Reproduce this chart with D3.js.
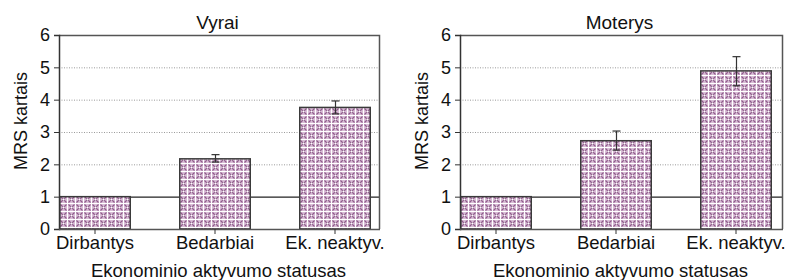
<!DOCTYPE html>
<html>
<head>
<meta charset="utf-8">
<script src="https://cdn.jsdelivr.net/npm/d3@7"></script>
<style>
  body { margin: 0; background: #fff; }
  svg { display: block; font-family: "Liberation Sans", Arial, sans-serif; }
</style>
</head>
<body>
<svg id="chart" width="796" height="280"></svg>
<script>
// data
const categories = ['Dirbantys', 'Bedarbiai', 'Ek. neaktyv.'];
const yTicks = [0, 1, 2, 3, 4, 5, 6];
const panelTitles = ['Vyrai', 'Moterys'];
const menValues = [1, 2.17, 3.76];
const menLow = [1, 2.07, 3.56];
const menHigh = [1, 2.30, 3.96];
const womenValues = [1, 2.73, 4.89];
const womenLow = [1, 2.44, 4.43];
const womenHigh = [1, 3.03, 5.33];

const svg = d3.select('#chart');

// lattice fill like the original
const defs = svg.append('defs');
const pat = defs.append('pattern')
    .attr('id', 'hatch')
    .attr('patternUnits', 'userSpaceOnUse')
    .attr('width', 8)
    .attr('height', 8);
pat.append('rect').attr('width', 8).attr('height', 8).attr('fill', '#fff');
pat.append('rect').attr('x', 1).attr('y', 1).attr('width', 7).attr('height', 7).attr('fill', '#d9bdd6');
pat.append('path')
    .attr('d', 'M1.5,1.5L7.5,7.5M7.5,1.5L1.5,7.5')
    .attr('stroke', '#8e5a8a')
    .attr('stroke-width', 1.1);
pat.append('circle')
    .attr('cx', 4.5).attr('cy', 4.5).attr('r', 1)
    .attr('fill', '#fff');

const panels = [
    { title: panelTitles[0], left: 59, right: 380, values: menValues, low: menLow, high: menHigh },
    { title: panelTitles[1], left: 460, right: 783, values: womenValues, low: womenLow, high: womenHigh }
];
const plotTop = 35, plotBottom = 229;
const fontFam = '"Liberation Sans", Arial, sans-serif';

panels.forEach(p => {
    const w = p.right - p.left;
    const h = plotBottom - plotTop;
    const g = svg.append('g').attr('transform', `translate(${p.left},${plotTop})`);

    const x = d3.scaleBand().domain(categories).range([-24, 336]).paddingInner(0.4).paddingOuter(0.2);
    const y = d3.scaleLinear().domain([0, 6]).range([h, 0]);

    // dotted grid
    g.append('g')
        .selectAll('line')
        .data(yTicks.filter(t => t >= 2 && t <= 5))
        .enter()
        .append('line')
        .attr('x1', 0).attr('x2', w)
        .attr('y1', d => y(d) + 0.5).attr('y2', d => y(d) + 0.5)
        .attr('stroke', '#9a9a9a')
        .attr('stroke-width', 1)
        .attr('stroke-dasharray', '1,1.5');

    // reference line at 1
    g.append('line')
        .attr('x1', 0).attr('x2', w)
        .attr('y1', y(1) + 0.5).attr('y2', y(1) + 0.5)
        .attr('stroke', '#222')
        .attr('stroke-width', 1.2);

    // plot box (top, right)
    g.append('path')
        .attr('d', `M0,0.5H${w - 0.5}V${h}`)
        .attr('fill', 'none')
        .attr('stroke', '#555')
        .attr('stroke-width', 1.5);

    // bars
    g.append('g')
        .selectAll('rect')
        .data(p.values)
        .enter()
        .append('rect')
        .attr('x', (d, i) => x(categories[i]) + 0.75)
        .attr('y', d => y(d))
        .attr('width', x.bandwidth() - 1.5)
        .attr('height', d => h - y(d))
        .attr('fill', 'url(#hatch)')
        .attr('stroke', '#3a3a3a')
        .attr('stroke-width', 1.5);

    // error bars
    const err = g.append('g').attr('stroke', '#333').attr('stroke-width', 1.2);
    p.values.forEach((v, i) => {
        if (p.high[i] === p.low[i]) return;
        const cx = Math.round(x(categories[i]) + x.bandwidth() / 2) + 0.5;
        err.append('line').attr('x1', cx).attr('x2', cx).attr('y1', y(p.high[i])).attr('y2', y(p.low[i]));
        err.append('line').attr('x1', cx - 4).attr('x2', cx + 4).attr('y1', y(p.high[i])).attr('y2', y(p.high[i]));
        err.append('line').attr('x1', cx - 4).attr('x2', cx + 4).attr('y1', y(p.low[i])).attr('y2', y(p.low[i]));
    });

    // y axis
    const yAxis = g.append('g')
        .call(d3.axisLeft(y).tickValues(yTicks).tickSize(5).tickPadding(4).tickFormat(d3.format('d')));
    yAxis.select('.domain').attr('stroke', '#333').attr('stroke-width', 1.5);
    yAxis.selectAll('.tick line').attr('stroke', '#333');
    yAxis.selectAll('text').attr('font-size', 18).attr('fill', '#111').attr('font-family', fontFam);

    // x axis
    const xAxis = g.append('g')
        .attr('transform', `translate(0,${h})`)
        .call(d3.axisBottom(x).tickSize(5).tickSizeOuter(0).tickPadding(2));
    xAxis.select('.domain').attr('d', `M0,0.5H${w}`).attr('stroke', '#555').attr('stroke-width', 1.5);
    xAxis.selectAll('.tick line').attr('stroke', '#333');
    xAxis.selectAll('text').attr('font-size', 18.5).attr('fill', '#111').attr('font-family', fontFam);

    // titles
    g.append('text')
        .attr('x', w / 2 - 2)
        .attr('y', -6)
        .attr('text-anchor', 'middle')
        .attr('font-size', 19)
        .attr('fill', '#111')
        .text(p.title);

    g.append('text')
        .attr('x', w / 2 - 1)
        .attr('y', h + 48)
        .attr('text-anchor', 'middle')
        .attr('font-size', 18.5)
        .attr('fill', '#111')
        .text('Ekonominio aktyvumo statusas');

    g.append('text')
        .attr('transform', `translate(-32,${h / 2 - 11}) rotate(-90)`)
        .attr('text-anchor', 'middle')
        .attr('font-size', 18)
        .attr('fill', '#111')
        .text('MRS kartais');
});
</script>
</body>
</html>
